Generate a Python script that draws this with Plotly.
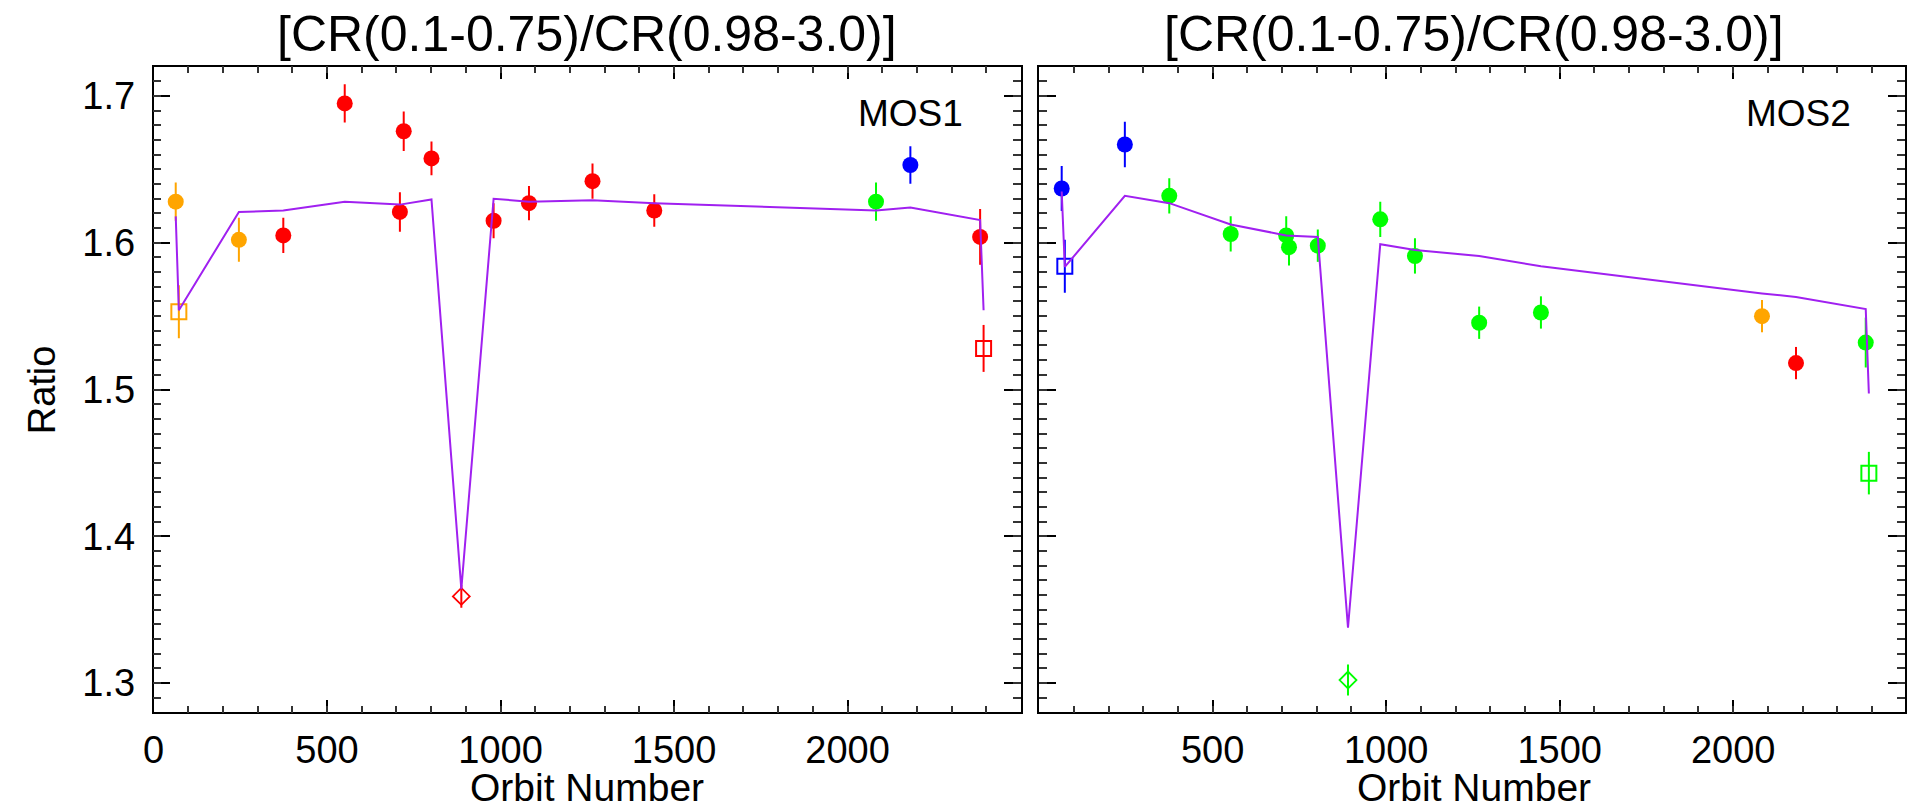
import plotly.graph_objects as go

# ---------------- data ----------------
title_text = "[CR(0.1-0.75)/CR(0.98-3.0)]"

# MOS1 observations
mos1_orbit = [64, 73, 246, 374, 551, 721, 710, 801, 887, 980, 1082, 1265, 1443, 2082, 2181, 2382, 2392]
mos1_ratio = [1.628, 1.553, 1.602, 1.605, 1.695, 1.676, 1.621, 1.6575, 1.359, 1.615, 1.627, 1.642, 1.622, 1.628, 1.653, 1.604, 1.528]
mos1_err = [0.013, 0.018, 0.015, 0.012, 0.013, 0.0135, 0.0135, 0.0115, 0.0078, 0.012, 0.0117, 0.012, 0.011, 0.013, 0.0127, 0.019, 0.016]
mos1_color = ["orange", "orange", "orange", "red", "red", "red", "red", "red", "red", "red", "red", "red", "red", "green", "blue", "red", "red"]
mos1_symbol = ["circle", "square", "circle", "circle", "circle", "circle", "circle", "circle", "diamond", "circle", "circle", "circle", "circle", "circle", "circle", "circle", "square"]

# MOS1 model curve
mos1_model_orbit = [64, 73, 246, 374, 551, 710, 801, 887, 980, 1082, 1265, 1443, 2082, 2181, 2382, 2392]
mos1_model_ratio = [1.618, 1.554, 1.621, 1.622, 1.628, 1.626, 1.6295, 1.364, 1.630, 1.628, 1.629, 1.627, 1.622, 1.624, 1.6155, 1.554]

# MOS2 observations
mos2_orbit = [65, 74, 247, 375, 552, 712, 720, 803, 890, 983, 1083, 1268, 1446, 2083, 2181, 2382, 2391]
mos2_ratio = [1.637, 1.584, 1.667, 1.632, 1.606, 1.605, 1.597, 1.598, 1.302, 1.616, 1.591, 1.5455, 1.5525, 1.550, 1.518, 1.532, 1.443]
mos2_err = [0.0153, 0.018, 0.0155, 0.012, 0.012, 0.013, 0.0125, 0.011, 0.0105, 0.012, 0.012, 0.011, 0.011, 0.011, 0.011, 0.017, 0.0145]
mos2_color = ["blue", "blue", "blue", "green", "green", "green", "green", "green", "green", "green", "green", "green", "green", "orange", "red", "green", "green"]
mos2_symbol = ["circle", "square", "circle", "circle", "circle", "circle", "circle", "circle", "diamond", "circle", "circle", "circle", "circle", "circle", "circle", "circle", "square"]

# MOS2 model curve
mos2_model_orbit = [65, 74, 247, 375, 552, 712, 803, 890, 983, 1083, 1268, 1446, 2083, 2181, 2382, 2391]
mos2_model_ratio = [1.635, 1.5835, 1.632, 1.627, 1.6125, 1.605, 1.604, 1.3376, 1.599, 1.595, 1.591, 1.584, 1.5655, 1.563, 1.5548, 1.4973]

x_label = "Orbit Number"
y_label = "Ratio"
panel_labels = ["MOS1", "MOS2"]

# ---------------- styling ----------------
COLORS = {"orange": "#FFA500", "red": "#FF0000", "green": "#00FF00", "blue": "#0000FF"}
LINE_COLOR = "#A020F0"
FONT = "Liberation Sans, Arial, Helvetica, sans-serif"
W, H = 1907, 811

fig = go.Figure()


def add_points(orbit, ratio, err, color, symbol, xa, ya):
    groups = []
    for c, s in zip(color, symbol):
        if (c, s) not in groups:
            groups.append((c, s))
    for c, s in groups:
        idx = [i for i in range(len(orbit)) if color[i] == c and symbol[i] == s]
        col = COLORS[c]
        if s == "circle":
            marker = dict(symbol="circle", size=16, color=col, line=dict(width=0))
        elif s == "square":
            marker = dict(symbol="square-open", size=15, color=col, line=dict(width=2, color=col))
        else:
            marker = dict(symbol="diamond-open", size=13, color=col, line=dict(width=1.8, color=col))
        fig.add_trace(go.Scatter(
            x=[orbit[i] for i in idx], y=[ratio[i] for i in idx], mode="markers",
            marker=marker,
            error_y=dict(type="data", array=[err[i] for i in idx], color=col, thickness=2, width=0),
            xaxis=xa, yaxis=ya, showlegend=False))


def add_model(xs, ys, xa, ya):
    fig.add_trace(go.Scatter(x=xs, y=ys, mode="lines", line=dict(color=LINE_COLOR, width=2),
                             xaxis=xa, yaxis=ya, showlegend=False, hoverinfo="skip"))


# points on the base subplots, model curves on overlay subplots (which also carry minor ticks)
add_points(mos1_orbit, mos1_ratio, mos1_err, mos1_color, mos1_symbol, "x", "y")
add_points(mos2_orbit, mos2_ratio, mos2_err, mos2_color, mos2_symbol, "x2", "y2")
add_model(mos1_model_orbit, mos1_model_ratio, "x3", "y3")
add_model(mos2_model_orbit, mos2_model_ratio, "x4", "y4")

# pixel geometry
L0, L1 = 143.5, 1017.0
R0 = 1035.2
TOP, BOT = 66.7, 712.3
px_per_unit = (L1 - L0) / 2500.0
right_max = (W - R0) / px_per_unit
YR = [1.28, 1.72]

tickfont = dict(family=FONT, size=38, color="black")

xmajor = dict(showline=True, linecolor="black", linewidth=1.5, mirror="ticks",
              ticks="inside", ticklen=13, tickwidth=1.5, tickcolor="black",
              tickmode="linear", tick0=0, dtick=500,
              showgrid=False, zeroline=False, tickfont=tickfont, ticklabelstandoff=3)
ymajor = dict(showline=True, linecolor="black", linewidth=1.5, mirror="ticks",
              ticks="inside", ticklen=17, tickwidth=1.5, tickcolor="black",
              showgrid=False, zeroline=False, tickfont=tickfont, ticklabelstandoff=9,
              range=YR, tickmode="linear", tick0=1.3, dtick=0.1, tickformat=".1f")
xminor = dict(showline=True, linecolor="black", linewidth=1.5, mirror="ticks",
              ticks="inside", ticklen=6.5, tickwidth=1.5, tickcolor="#333",
              tickmode="linear", tick0=0, dtick=100, showticklabels=False,
              showgrid=False, zeroline=False)
yminor = dict(showline=True, linecolor="black", linewidth=1.5, mirror="ticks",
              ticks="inside", ticklen=8, tickwidth=1.5, tickcolor="#333",
              tickmode="linear", tick0=1.3, dtick=0.01, showticklabels=False,
              showgrid=False, zeroline=False, range=YR)

ydom = [1 - BOT / H, 1 - TOP / H]
fig.update_layout(
    width=W, height=H, margin=dict(l=0, r=0, t=0, b=0),
    paper_bgcolor="white", plot_bgcolor="white", showlegend=False,
    font=dict(family=FONT, color="black"),
    xaxis=dict(domain=[L0 / W, L1 / W], range=[0, 2500], anchor="y",
               labelalias={"2500": ""}, **xmajor),
    yaxis=dict(domain=ydom, anchor="x", **ymajor),
    xaxis2=dict(domain=[R0 / W, 1.0], range=[0, right_max], anchor="y2",
                labelalias={"0": ""}, **xmajor),
    yaxis2=dict(domain=ydom, anchor="x2", showticklabels=False, **ymajor),
    xaxis3=dict(overlaying="x", anchor="y3", range=[0, 2500], **xminor),
    yaxis3=dict(overlaying="y", anchor="x3", **yminor),
    xaxis4=dict(overlaying="x2", anchor="y4", range=[0, right_max], **xminor),
    yaxis4=dict(overlaying="y2", anchor="x4", **yminor),
)


def ann(text, xpx, ypx, size, angle=0, yanchor="middle"):
    return dict(text=text, x=xpx / W, y=1 - ypx / H, xref="paper", yref="paper",
                xanchor="center", yanchor=yanchor, showarrow=False, textangle=angle,
                font=dict(family=FONT, size=size, color="black"))


annotations = [
    ann(title_text, (L0 + L1) / 2, 34, 50),
    ann(title_text, (R0 + 1910) / 2, 34, 50),
    ann(panel_labels[0], 906, 113, 37),
    ann(panel_labels[1], 1800, 113, 37),
    ann(x_label, (L0 + L1) / 2, H, 39, yanchor="bottom"),
    ann(x_label, (R0 + 1910) / 2, H, 39, yanchor="bottom"),
    ann(y_label, 32, (TOP + BOT) / 2, 38, -90),
]
fig.update_layout(annotations=annotations)

fig.write_html("out.html",
               config={"displayModeBar": False},
               post_script="document.body.style.margin='0';document.body.style.overflow='hidden';"
                           "document.documentElement.style.overflow='hidden';")
